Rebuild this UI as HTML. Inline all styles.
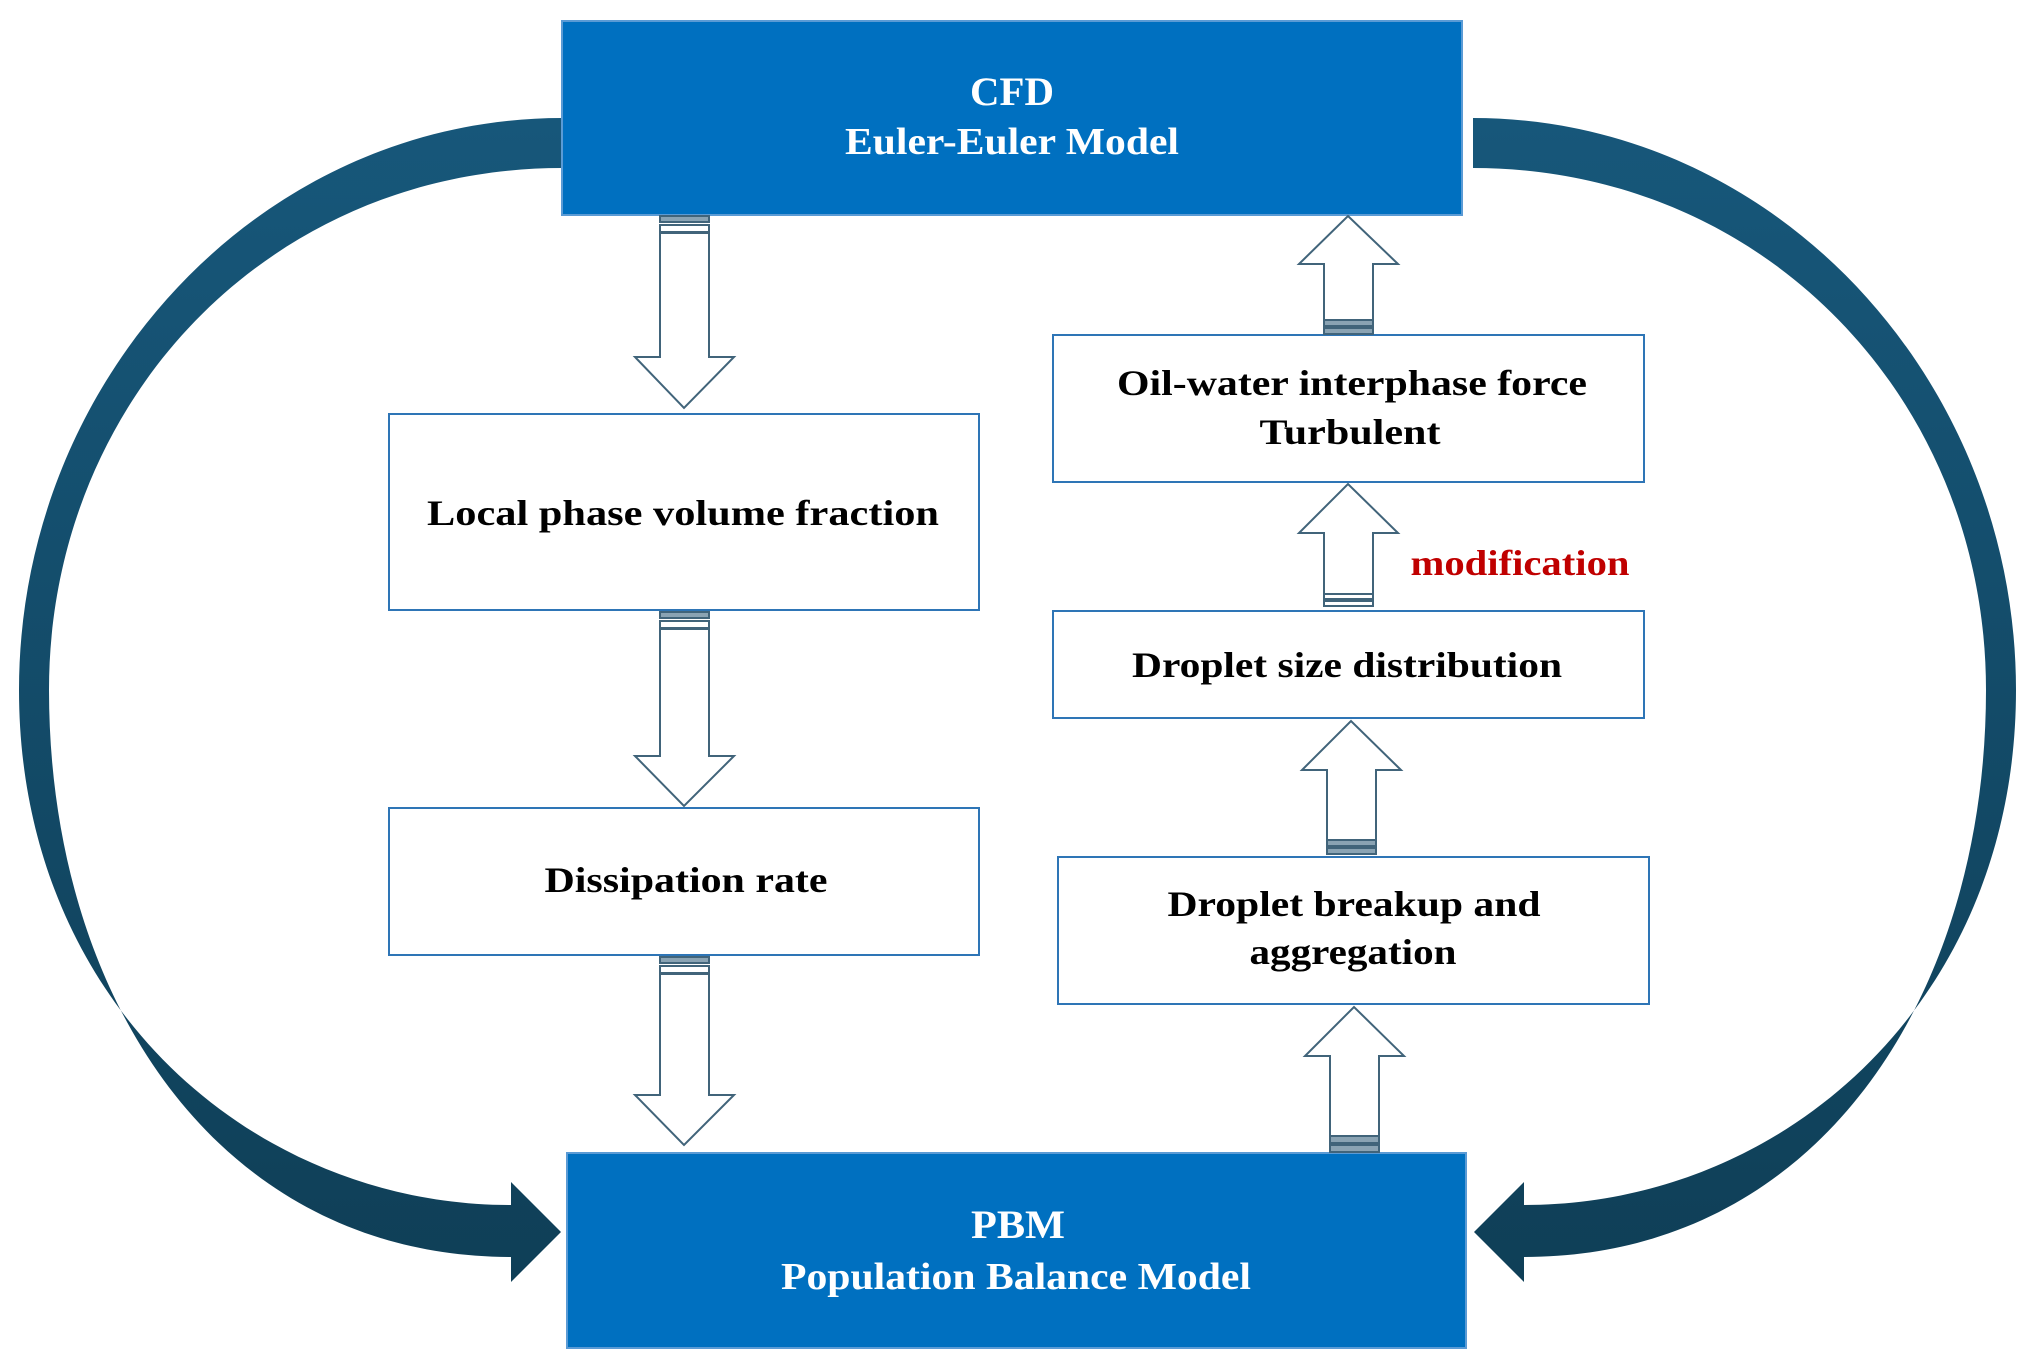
<!DOCTYPE html>
<html><head><meta charset="utf-8"><style>
html,body{margin:0;padding:0;background:#fff;}
svg{display:block;}
text{font-family:"Liberation Serif",serif;font-weight:bold;}
</style></head><body>
<svg width="2031" height="1368" viewBox="0 0 2031 1368" xmlns="http://www.w3.org/2000/svg">
<defs>
<linearGradient id="g" x1="0" y1="0" x2="0" y2="1">
<stop offset="0" stop-color="#17577a"/><stop offset="1" stop-color="#0f3f57"/>
</linearGradient>
</defs>
<g id="curve">
<path fill="url(#g)" d="M562,118 C260,118 19,380 19,690 C19,1000 250,1205 511,1205 L511,1182 L561,1232 L511,1282 L511,1257 C220,1257 49,1000 49,690 C49,400 270,168 562,168 Z"/>
</g>
<use href="#curve" transform="translate(2035,0) scale(-1,1)"/>

<rect x="562" y="21" width="900" height="194" fill="#0070c0" stroke="#5b9bd5" stroke-width="2"/>
<rect x="567" y="1153" width="899" height="195" fill="#0070c0" stroke="#5b9bd5" stroke-width="2"/>

<g fill="#fff" stroke="#2e75b6" stroke-width="2">
<rect x="389" y="414" width="590" height="196"/>
<rect x="389" y="808" width="590" height="147"/>
<rect x="1053" y="335" width="591" height="147"/>
<rect x="1053" y="611" width="591" height="107"/>
<rect x="1058" y="857" width="591" height="147"/>
</g>

<g fill="#fff" stroke="#41647a" stroke-width="2">
<path d="M660,233 L660,357 L635,357 L684,408 L734,357 L709,357 L709,233 Z"/>
<path d="M660,629 L660,756 L635,756 L684,806 L734,756 L709,756 L709,629 Z"/>
<path d="M660,974 L660,1095 L635,1095 L684,1145 L734,1095 L709,1095 L709,974 Z"/>
<path d="M1324,320 L1324,264 L1299,264 L1348,216 L1398,264 L1373,264 L1373,320 Z"/>
<path d="M1324,594 L1324,533 L1299,533 L1348,484 L1398,533 L1373,533 L1373,594 Z"/>
<path d="M1327,840 L1327,770 L1302,770 L1351,721 L1401,770 L1376,770 L1376,840 Z"/>
<path d="M1330,1136 L1330,1056 L1305,1056 L1354,1007 L1404,1056 L1379,1056 L1379,1136 Z"/>
</g>
<g fill="#fff" stroke="#41647a" stroke-width="2">
<rect x="660" y="216" width="49" height="6" fill="#8aa3b3"/><rect x="660" y="225" width="49" height="7"/>
<rect x="660" y="612" width="49" height="6" fill="#8aa3b3"/><rect x="660" y="621" width="49" height="7"/>
<rect x="660" y="957" width="49" height="6" fill="#8aa3b3"/><rect x="660" y="966" width="49" height="7"/>
<rect x="1324" y="320" width="49" height="6" fill="#8aa3b3"/><rect x="1324" y="328" width="49" height="6" fill="#8aa3b3"/>
<rect x="1324" y="594" width="49" height="5"/><rect x="1324" y="601" width="49" height="5"/>
<rect x="1327" y="840" width="49" height="6" fill="#8aa3b3"/><rect x="1327" y="848" width="49" height="6" fill="#8aa3b3"/>
<rect x="1330" y="1136" width="49" height="7" fill="#8aa3b3"/><rect x="1330" y="1145" width="49" height="7" fill="#8aa3b3"/>
</g>

<g font-size="36" text-anchor="middle">
<text x="1012" y="105" fill="#fff" font-size="40" textLength="84" lengthAdjust="spacingAndGlyphs">CFD</text>
<text x="1012" y="154" fill="#fff" font-size="38" textLength="334" lengthAdjust="spacingAndGlyphs">Euler-Euler Model</text>
<text x="1018" y="1238" fill="#fff" font-size="40" textLength="94" lengthAdjust="spacingAndGlyphs">PBM</text>
<text x="1016" y="1289" fill="#fff" font-size="38" textLength="470" lengthAdjust="spacingAndGlyphs">Population Balance Model</text>
<text x="683" y="525" fill="#000" textLength="512" lengthAdjust="spacingAndGlyphs">Local  phase volume fraction</text>
<text x="686" y="892" fill="#000" textLength="283" lengthAdjust="spacingAndGlyphs">Dissipation rate</text>
<text x="1352" y="395" fill="#000" textLength="470" lengthAdjust="spacingAndGlyphs">Oil-water interphase force</text>
<text x="1350" y="444" fill="#000" textLength="181" lengthAdjust="spacingAndGlyphs">Turbulent</text>
<text x="1520" y="575" fill="#c00000" textLength="219" lengthAdjust="spacingAndGlyphs">modification</text>
<text x="1347" y="677" fill="#000" textLength="430" lengthAdjust="spacingAndGlyphs">Droplet size distribution</text>
<text x="1354" y="916" fill="#000" textLength="373" lengthAdjust="spacingAndGlyphs">Droplet breakup and</text>
<text x="1353" y="964" fill="#000" textLength="207" lengthAdjust="spacingAndGlyphs">aggregation</text>
</g>
</svg>
</body></html>
